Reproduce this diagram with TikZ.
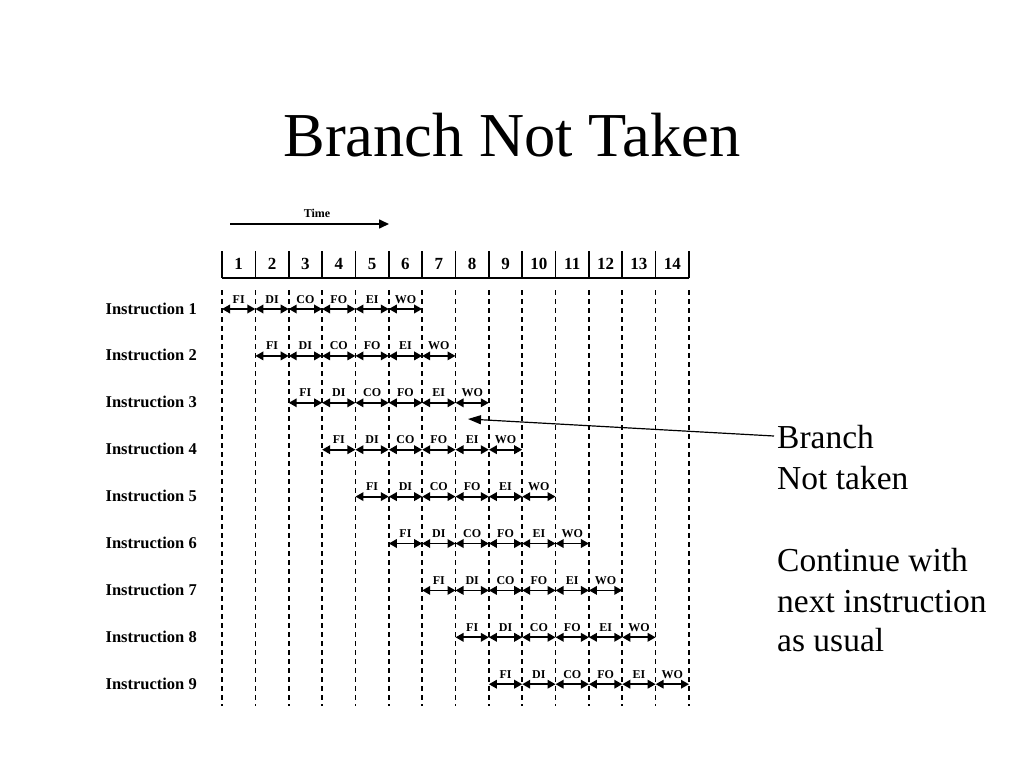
\documentclass[tikz,border=0pt]{standalone}
\usepackage{fontspec}
\setmainfont{Liberation Serif}
\usetikzlibrary{arrows.meta}
\begin{document}
\begin{tikzpicture}[x=1pt,y=-1pt,
  gridline/.style={line width=1.6pt},
  vdash/.style={line width=1.6pt, dash pattern=on 5pt off 4pt},
  stagearrow/.style={line width=1.8pt, {Triangle[length=8pt,width=8.5pt]}-{Triangle[length=8pt,width=8.5pt]}},
  stagelabel/.style={font=\bfseries\fontsize{12}{14}\selectfont, anchor=base, inner sep=0pt},
  instlabel/.style={font=\bfseries\fontsize{16.5}{19}\selectfont, anchor=base east, inner sep=0pt},
  numlabel/.style={font=\bfseries\fontsize{17}{20}\selectfont, anchor=base, inner sep=0pt},
  note/.style={font=\fontsize{33.5}{41}\selectfont, anchor=base west, inner sep=0pt}
]
\useasboundingbox (0,0) rectangle (1024,768);

% title
\node[font=\fontsize{62.5}{72}\selectfont, anchor=base, inner sep=0pt] (title) at (512,156) {Branch Not Taken};

% time arrow
\node[font=\bfseries\fontsize{12}{14}\selectfont, anchor=base, inner sep=0pt] (time) at (317,217) {Time};
\coordinate (tstart) at (230,224);
\coordinate (tend) at (389,224);
\draw[line width=1.6pt, -{Triangle[length=10pt,width=9pt]}] (tstart) -- (tend);

% header
\foreach \i in {0,...,14} {
  \pgfmathsetmacro\xx{222+33.357*\i}
  \coordinate (ht\i) at (\xx,251);
  \coordinate (hb\i) at (\xx,278);
  \coordinate (dt\i) at (\xx,290);
  \coordinate (db\i) at (\xx,706);
  \draw[gridline] (ht\i) -- (hb\i);
  \draw[vdash] (dt\i) -- (db\i);
}
\draw[gridline] (hb0) -- (hb14);
\foreach \i in {1,...,14} {
  \pgfmathsetmacro\xx{222+33.357*(\i-0.5)}
  \node[numlabel] (num\i) at (\xx,269) {\i};
}

% instructions
\foreach \k in {1,...,9} {
  \pgfmathsetmacro\ry{309+46.9*(\k-1)}
  \node[instlabel] (inst\k) at (197,\ry+5) {Instruction \k};
  \foreach \j in {0,...,6} {
    \pgfmathsetmacro\xx{222+33.357*(\k-1+\j)}
    \coordinate (p\k-\j) at (\xx,\ry);
  }
  \foreach \s [count=\jj from 1] in {FI,DI,CO,FO,EI,WO} {
    \pgfmathtruncatemacro\j{\jj-1}
    \pgfmathsetmacro\mx{222+33.357*(\k-1+\j+0.5)}
    \draw[stagearrow] (p\k-\j) -- (p\k-\jj);
    \node[stagelabel] (s\k-\jj) at (\mx,\ry-6) {\s};
  }
}

% note
\node[note] (l1) at (777,448) {Branch};
\node[note] (l2) at (777,489) {Not taken};
\node[note] (l3) at (777,571) {Continue with};
\node[note] (l4) at (777,612) {next instruction};
\node[note] (l5) at (777,651) {as usual};
\coordinate (from) at (774,436);
\coordinate (tip) at (468,419);
\draw[line width=1.2pt, -{Triangle[length=13pt,width=9pt]}] (from) -- (tip);
\end{tikzpicture}
\end{document}
